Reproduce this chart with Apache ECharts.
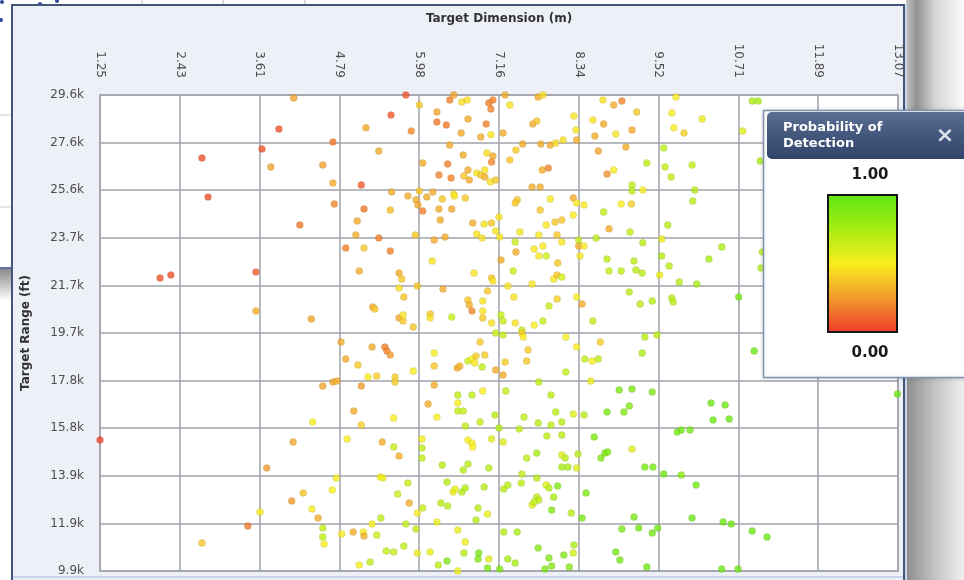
<!DOCTYPE html>
<html>
<head>
<meta charset="utf-8">
<script src="https://cdn.jsdelivr.net/npm/echarts@6/dist/echarts.min.js"></script>
<style>
  html, body { margin: 0; padding: 0; background: #ffffff; }
  #chart { width: 964px; height: 580px; }
</style>
</head>
<body>
<div id="chart"></div>
<script>
// Axis tick labels
const dimensionTicks = ['1.25', '2.43', '3.61', '4.79', '5.98', '7.16', '8.34', '9.52', '10.71', '11.89', '13.07'];
const rangeTicks = ['9.9k', '11.9k', '13.9k', '15.8k', '17.8k', '19.7k', '21.7k', '23.7k', '25.6k', '27.6k', '29.6k'];

// Axis extents: target dimension (m) and target range (ft)
const dimensionExtent = [1.25, 13.07];
const rangeExtent = [9900, 29600];

// Probability-of-detection colour ramp, from 0.00 to 1.00
const podColors = ['#ee3a2a', '#f39a2c', '#f8ee1e', '#a6ec12', '#5ee614'];
const podHigh = '1.00';
const podLow = '0.00';

// Each detection: [target dimension (m), target range (ft), probability of detection]
const detections = [
  [1.25,15320,.04],[2.14,22030,.06],[2.30,22150,.06],[2.76,26990,.06],[2.85,25380,.06],[2.76,11060,.38],
  [3.44,11760,.16],[3.56,22270,.1],[3.56,20660,.3],[3.62,12340,.5],[3.65,27370,.06],[3.72,14160,.25],
  [3.78,26620,.27],[3.90,28190,.06],[4.09,12800,.25],[4.11,15240,.27],[4.12,29480,.27],[4.21,24220,.16],
  [4.26,13130,.38],[4.38,20330,.27],[4.39,12470,.5],[4.40,16070,.5],[4.48,12090,.3],[4.55,26700,.27],
  [4.55,17560,.27],[4.55,11680,.68],[4.55,11310,.68],[4.57,11020,.5],

  [5.78,29600,.08],[5.98,29190,.4],[5.56,28770,.08],[5.19,28240,.3],[5.86,28110,.2],[6.24,28900,.27],
  [6.24,28480,.16],[6.38,28360,.16],[6.43,29390,.18],[6.49,29600,.28],[6.61,29310,.45],[6.69,29390,.45],
  [6.70,28610,.3],[6.60,28030,.3],[6.89,27860,.3],[6.97,28400,.18],[7.04,27950,.46],[7.01,29270,.18],
  [7.07,29390,.18],[7.04,29020,.18],[7.25,29600,.3],[7.32,29190,.46],[7.22,28030,.3],[4.70,27660,.16],
  [5.38,27280,.3],[6.43,27530,.3],[6.63,27120,.3],[6.98,27200,.45],[7.07,27080,.3],[7.05,26830,.2],
  [6.03,26790,.3],[6.40,26740,.18],[6.27,26290,.18],[6.45,26170,.18],[6.70,26500,.3],[6.64,26250,.38],
  [6.72,26080,.3],[6.83,26370,.47],[6.89,26290,.38],[6.95,26500,.47],[6.95,26210,.3],[7.03,26000,.47],
  [7.11,26080,.38],[7.41,27320,.4],[7.32,26910,.38],[4.70,25960,.3],[5.12,25880,.08],[4.72,25090,.2],
  [5.57,25590,.3],[5.81,25420,.3],[5.98,25630,.38],[5.93,25260,.3],[5.96,25050,.28],[6.03,24800,.18],
  [6.09,25380,.3],[6.18,25590,.3],[6.32,25300,.38],[6.49,25500,.47],[6.50,25420,.47],[6.66,25340,.38],
  [6.27,24880,.3],[6.46,24880,.28],[6.29,24430,.3],[5.16,24880,.16],[5.55,24840,.36],[5.06,24390,.3],
  [6.77,24300,.3],[6.94,24260,.47],[7.05,24300,.38],[7.16,24550,.47],[7.11,23970,.47],[6.83,23850,.47],
  [6.91,23680,.47],[7.17,23720,.48],[7.43,25260,.38],[7.40,25130,.38],[5.04,23810,.3],[5.38,23680,.18],
  [5.92,23810,.38],[6.20,23600,.3],[6.36,23720,.3],[4.89,23270,.18],[5.16,23270,.38],[5.55,23140,.18],
  [5.09,22320,.3],[5.68,22230,.3],[5.72,21990,.38],[6.17,22730,.47],[6.79,22230,.47],[7.05,22030,.38],
  [7.07,21900,.47],[7.19,22770,.3],[7.40,23520,.66],[7.41,23100,.3],[7.37,22320,.66],[5.68,21610,.47],
  [5.95,21700,.38],[6.33,21570,.3],[5.75,21240,.38],[5.29,20830,.3],[5.32,20740,.38],[5.68,20370,.3],
  [5.74,20250,.38],[5.74,20500,.47],[5.89,20000,.38],[6.14,20540,.38],[6.14,20370,.47],[6.46,20410,.66],
  [6.70,21120,.38],[6.72,20910,.3],[6.76,20660,.2],[6.92,21070,.47],[6.92,20660,.47],[6.92,20370,.38],
  [6.99,21490,.38],[7.05,20160,.47],[7.29,21700,.47],[7.38,21240,.47],[7.19,20500,.66],[7.22,20250,.66],
  [7.40,20160,.47],

  [7.74,29520,.3],[7.81,29600,.45],[7.66,28400,.3],[7.72,28520,.38],[8.27,28730,.47],[8.30,28150,.47],
  [8.70,29390,.47],[8.86,29190,.3],[8.98,29350,.2],[8.55,28570,.47],[8.71,28400,.3],[9.20,28900,.38],
  [8.89,27990,.47],[9.13,28150,.3],[8.58,27900,.3],[9.78,29520,.5],[9.72,28860,.5],[9.75,28240,.5],
  [9.90,28030,.4],[7.51,27570,.3],[7.78,27570,.3],[7.92,27530,.3],[8.00,27610,.45],[8.11,27740,.45],
  [8.31,27740,.3],[7.80,26500,.3],[7.89,26580,.2],[7.65,25790,.3],[7.77,25790,.3],[8.63,27280,.28],
  [9.04,27450,.3],[8.76,26330,.22],[8.86,26500,.5],[9.35,26790,.68],[9.60,27410,.68],[9.62,26620,.68],
  [9.71,26210,.68],[10.02,26700,.68],[9.13,25880,.68],[9.13,25630,.68],[9.29,25670,.5],[10.06,25670,.7],
  [10.03,25210,.7],[7.77,24840,.38],[7.92,25300,.48],[8.26,25340,.3],[8.31,25130,.48],[8.42,25050,.48],
  [8.26,24630,.48],[8.09,24430,.38],[7.99,24340,.38],[7.86,24220,.48],[7.47,23930,.48],[7.75,23810,.48],
  [8.02,23810,.38],[8.09,23520,.48],[8.71,24760,.68],[8.97,25090,.5],[9.12,25090,.4],[8.79,24060,.3],
  [9.10,23930,.68],[9.66,24220,.7],[9.57,23640,.54],[8.34,23600,.66],[8.60,23680,.68],[7.68,23230,.48],
  [7.81,23350,.48],[7.75,22940,.48],[7.86,22940,.62],[8.34,23350,.3],[8.42,23350,.48],[8.36,22940,.48],
  [8.03,22650,.38],[7.97,21990,.48],[8.02,22150,.38],[8.09,22070,.62],[7.65,21780,.48],[8.76,22810,.68],
  [8.79,22320,.68],[8.97,22320,.68],[9.16,22730,.7],[9.19,22360,.7],[9.28,22230,.7],[9.29,23480,.7],
  [9.57,22940,.7],[9.68,22520,.7],[9.54,22150,.54],[9.83,21860,.7],[10.09,21780,.74],[8.02,21160,.4],
  [8.31,21240,.5],[8.39,20950,.3],[7.90,20870,.66],[9.09,21450,.7],[9.25,20950,.7],[9.43,21070,.7],
  [9.72,21200,.7],[9.74,21030,.7],[8.55,20250,.68],[7.50,19870,.66],[7.68,20080,.5],[7.81,20250,.66],

  [10.91,29350,.74],[11.00,29350,.74],[10.17,28610,.54],[10.77,28110,.58],[11.03,26870,.74],
  [10.46,23310,.74],[10.27,22810,.74],[10.71,21240,.93],[11.06,23100,.7],[11.04,22440,.7],

  [4.82,19380,.3],[4.89,18670,.3],[5.07,18430,.38],[5.28,19170,.3],[5.47,19170,.18],[5.50,19010,.18],
  [5.55,18840,.25],[4.70,17720,.28],[4.76,17760,.3],[5.12,17560,.25],[5.22,17930,.5],[5.35,17970,.4],
  [5.62,17930,.4],[5.62,17720,.4],[5.89,18180,.5],[6.20,18920,.5],[6.20,18380,.38],[6.54,18300,.3],
  [6.58,18380,.32],[6.70,18590,.66],[6.76,18670,.5],[6.82,18800,.4],[6.80,18510,.5],[6.88,19380,.4],
  [6.95,18840,.4],[6.91,18340,.68],[7.11,19750,.66],[7.22,19670,.66],[7.25,18550,.4],[7.11,18220,.3],
  [7.22,18010,.3],[6.20,17600,.3],[6.55,17180,.68],[6.55,16850,.5],[6.76,17180,.68],[6.92,17350,.5],
  [6.55,16520,.68],[6.63,16520,.68],[6.11,16810,.3],[6.24,16270,.5],[5.01,16520,.3],[5.12,15940,.4],
  [5.60,16230,.5],[6.66,15900,.68],[6.88,16070,.68],[7.10,16360,.7],[7.26,17350,.68],[7.16,15820,.7],
  [4.91,15360,.5],[5.43,15240,.3],[5.60,15030,.66],[5.68,14660,.3],[6.02,15360,.5],[6.02,14990,.68],
  [6.02,14580,.68],[6.32,14290,.7],[6.70,14330,.7],[6.63,14080,.7],[6.70,15320,.5],[6.76,15200,.5],
  [6.77,15030,.5],[7.05,15360,.58],[7.01,14160,.7],[7.22,15240,.58],[4.75,13750,.5],[4.69,13250,.5],
  [5.40,13790,.5],[5.44,13750,.54],[5.81,13540,.66],[5.66,13090,.66],[6.39,13580,.7],[6.48,13170,.54],
  [6.51,13290,.54],[6.61,13170,.7],[6.66,13340,.7],[6.94,13380,.7],[7.23,13290,.7],[7.29,13460,.7],
  [5.83,12710,.3],[5.95,12300,.5],[6.03,12510,.66],[6.30,12710,.7],[6.40,12590,.7],[6.85,12510,.7],
  [6.99,12260,.54],[6.82,12010,.7],[5.41,12090,.68],[5.28,11850,.5],[5.78,11850,.68],[5.93,11640,.68],
  [6.24,11930,.54],[6.55,11600,.54],[4.83,11430,.5],[5.00,11510,.3],[5.15,11510,.5],[5.16,11350,.3],
  [5.35,11390,.66],[6.66,11100,.54],[7.23,11510,.7],[7.43,11510,.74],[5.49,10730,.68],[5.60,10690,.68],
  [5.75,10930,.68],[5.95,10650,.54],[6.14,10690,.54],[5.09,10150,.5],[5.25,10270,.68],[6.26,10150,.7],
  [6.39,10310,.9],[6.55,9900,.54],[6.64,10650,.7],[6.86,10650,.9],[6.85,10400,.9],[7.01,10400,.58],
  [6.99,10020,.9],[7.17,9980,.9],[7.29,10400,.74],[7.40,10230,.74],

  [7.50,19750,.4],[7.52,19580,.48],[7.59,19050,.4],[7.57,18590,.38],[8.15,19580,.5],[8.31,19170,.5],
  [8.15,18140,.68],[8.66,19380,.4],[8.43,18670,.68],[8.54,18590,.5],[8.63,18670,.68],[8.52,17760,.54],
  [9.32,19580,.7],[9.50,19670,.7],[9.28,18920,.74],[7.75,17720,.68],[7.93,17180,.68],[8.00,16480,.7],
  [7.53,16270,.68],[7.74,16030,.7],[7.93,15940,.7],[8.09,16070,.7],[8.26,16400,.58],[8.42,16360,.7],
  [8.76,16480,.9],[9.01,16480,.9],[9.09,16730,.9],[8.94,17390,.9],[9.13,17430,.9],[9.43,17310,.9],
  [7.46,15780,.68],[7.87,15490,.7],[8.09,15530,.7],[7.72,14780,.74],[7.57,14580,.68],[8.09,14700,.58],
  [8.14,14580,.68],[8.09,14200,.74],[8.18,14200,.74],[8.33,14740,.7],[8.31,14160,.58],[8.57,15450,.9],
  [8.67,14580,.9],[8.73,14780,.9],[8.77,14830,.9],[9.13,14950,.58],[9.32,14200,.92],[9.44,14200,.92],
  [9.60,13910,.93],[9.80,15650,.93],[9.86,15740,.93],[9.99,15740,.93],[9.86,13870,.85],[10.08,13460,.93],
  [7.50,13910,.68],[7.72,13750,.7],[7.49,13540,.68],[7.86,13460,.58],[7.90,13340,.7],[8.03,13420,.88],
  [7.97,12960,.74],[7.72,12960,.68],[7.75,12840,.68],[7.65,12630,.58],[7.68,12760,.68],[7.94,12420,.88],
  [8.23,12300,.7],[8.39,12090,.9],[8.45,13130,.9],[7.74,10850,.88],[8.27,10980,.74],[8.26,10650,.62],
  [8.12,10560,.88],[7.90,10440,.88],[7.94,10110,.88],[7.84,9980,.88],[8.20,10070,.88],[9.16,12140,.92],
  [8.98,11640,.92],[9.23,11680,.92],[9.43,11470,.93],[9.51,11680,.93],[8.89,10690,.92],[8.95,10360,.92],
  [9.35,10070,.93],[10.02,12090,.95],

  [10.94,19010,.95],[13.06,17230,.96],[10.30,16850,.95],[10.51,16770,.95],[10.33,16150,.95],
  [10.57,16190,.95],[10.48,11930,.95],[10.60,11850,.95],[10.91,11560,.95],[11.13,11310,.96],
  [10.46,9980,.95],[10.70,9980,.95]
];

const chart = echarts.init(document.getElementById('chart'), null, { renderer: 'canvas' });

const fontFamily = 'DejaVu Sans, Verdana, sans-serif';
const gridColor = '#a2a2ab';

// Gradient for the legend bar: 1.00 at the top, 0.00 at the bottom
const barStops = podColors.map((c, i) => ({ offset: 1 - i / (podColors.length - 1), color: c }))
  .sort((a, b) => a.offset - b.offset);

const txt = (x, y, text, font, fill, align, vAlign, z) => ({
  type: 'text', x, y, z: z || 0,
  style: { text, font, fill, align, verticalAlign: vAlign, textAlign: align, textVerticalAlign: vAlign }
});

const frame = [
  // surrounding desktop strips
  { type: 'rect', shape: { x: 0, y: 0, width: 12, height: 580 }, style: { fill: '#ffffff' } },
  { type: 'rect', shape: { x: 0, y: 0, width: 964, height: 5 }, style: { fill: '#ffffff' } },
  { type: 'line', shape: { x1: 0, y1: 115, x2: 11, y2: 115 }, style: { stroke: '#c9ccd2', lineWidth: 1 } },
  { type: 'line', shape: { x1: 0, y1: 207, x2: 11, y2: 207 }, style: { stroke: '#c9ccd2', lineWidth: 1 } },
  { type: 'line', shape: { x1: 0, y1: 268, x2: 11, y2: 268 }, style: { stroke: '#5d72a0', lineWidth: 2 } },
  { type: 'rect', shape: { x: 0, y: 269, width: 11, height: 32 },
    style: { fill: { type: 'linear', x: 0, y: 0, x2: 0, y2: 1, colorStops: [
      { offset: 0, color: '#8a8a8a' }, { offset: 1, color: '#ffffff' }] } } },
  { type: 'line', shape: { x1: 142, y1: 0, x2: 142, y2: 4 }, style: { stroke: '#b5b8c0', lineWidth: 1 } },
  { type: 'line', shape: { x1: 223, y1: 0, x2: 223, y2: 4 }, style: { stroke: '#b5b8c0', lineWidth: 1 } },
  { type: 'line', shape: { x1: 305, y1: 0, x2: 305, y2: 4 }, style: { stroke: '#b5b8c0', lineWidth: 1 } },
  { type: 'circle', shape: { cx: 2, cy: 2, r: 2 }, style: { fill: '#2b4b9b' } },
  { type: 'circle', shape: { cx: 1, cy: 20, r: 2 }, style: { fill: '#2b4b9b' } },
  { type: 'circle', shape: { cx: 40, cy: 4, r: 2 }, style: { fill: '#2b4b9b' } },
  { type: 'circle', shape: { cx: 57, cy: 1, r: 2 }, style: { fill: '#2b4b9b' } },
  // window shadow on the right
  { type: 'rect', shape: { x: 906, y: 0, width: 58, height: 112 },
    style: { fill: { type: 'linear', x: 0, y: 0, x2: 1, y2: 0, colorStops: [
      { offset: 0, color: '#c4c4c4' }, { offset: 0.18, color: '#929292' },
      { offset: 0.5, color: '#d6d6d6' }, { offset: 1, color: '#fbfbfb' }] } } },
  { type: 'rect', shape: { x: 906, y: 376, width: 58, height: 204 },
    style: { fill: { type: 'linear', x: 0, y: 0, x2: 1, y2: 0, colorStops: [
      { offset: 0, color: '#8c8c8c' }, { offset: 0.5, color: '#c4c4c4' }, { offset: 1, color: '#efefef' }] } } },
  // window border
  { type: 'polyline', shape: { points: [[12, 580], [12, 5], [904, 5], [904, 580]] },
    style: { stroke: '#44557a', lineWidth: 2, fill: null } },
  { type: 'line', shape: { x1: 906, y1: 5, x2: 906, y2: 580 }, style: { stroke: '#c9d5ea', lineWidth: 2 } },
  { type: 'line', shape: { x1: 13, y1: 577, x2: 903, y2: 577 }, style: { stroke: '#c7d4ea', lineWidth: 2 } }
];

// Probability-of-detection legend window
const legendPanel = [
  { type: 'rect', z: 100, shape: { x: 763.5, y: 110.5, width: 215, height: 267 },
    style: { fill: '#ffffff', stroke: '#8090b2', lineWidth: 1.5,
      shadowBlur: 4, shadowColor: 'rgba(0,0,0,0.15)' } },
  { type: 'rect', z: 101, shape: { x: 767, y: 112, width: 210, height: 47, r: [5, 0, 0, 5] },
    style: { fill: { type: 'linear', x: 0, y: 0, x2: 0, y2: 1, colorStops: [
      { offset: 0, color: '#5b6f94' }, { offset: 0.5, color: '#43567c' }, { offset: 1, color: '#33456a' }] } } },
  txt(783, 128, 'Probability of', 'bold 13px ' + fontFamily, '#ffffff', 'left', 'middle', 102),
  txt(783, 144, 'Detection', 'bold 13px ' + fontFamily, '#ffffff', 'left', 'middle', 102),
  txt(945, 136, '×', 'bold 22px ' + fontFamily, '#dde3ee', 'center', 'middle', 102),
  txt(870, 175, podHigh, 'bold 15px ' + fontFamily, '#1c1c1c', 'center', 'middle', 102),
  txt(870, 353, podLow, 'bold 15px ' + fontFamily, '#1c1c1c', 'center', 'middle', 102),
  { type: 'rect', z: 101, shape: { x: 828, y: 195, width: 69, height: 137 },
    style: { fill: { type: 'linear', x: 0, y: 0, x2: 0, y2: 1, colorStops: barStops },
      stroke: '#151515', lineWidth: 2 } }
];

chart.setOption({
  animation: false,
  backgroundColor: '#edf0f7',
  grid: {
    left: 100, top: 95, width: 798, height: 476,
    show: true, backgroundColor: '#ffffff', borderColor: gridColor, borderWidth: 1.5
  },
  xAxis: [
    { type: 'value', gridIndex: 0, min: dimensionExtent[0], max: dimensionExtent[1], show: false },
    {
      type: 'category', gridIndex: 0, position: 'top', data: dimensionTicks, boundaryGap: false,
      axisLine: { show: false }, axisTick: { show: false },
      axisLabel: { rotate: 90, margin: 17, interval: 0, fontSize: 12, color: '#4d4d4d', fontFamily },
      splitLine: { show: true, interval: 0, lineStyle: { color: gridColor, width: 1.5 } },
      name: 'Target Dimension (m)', nameLocation: 'middle', nameGap: 70,
      nameTextStyle: { fontWeight: 'bold', fontSize: 12, color: '#333', fontFamily }
    }
  ],
  yAxis: [
    { type: 'value', gridIndex: 0, min: rangeExtent[0], max: rangeExtent[1], show: false },
    {
      type: 'category', gridIndex: 0, position: 'left', data: rangeTicks, boundaryGap: false,
      axisLine: { show: false }, axisTick: { show: false },
      axisLabel: { margin: 16, interval: 0, fontSize: 12, color: '#4d4d4d', fontFamily },
      splitLine: { show: true, interval: 0, lineStyle: { color: gridColor, width: 1.5 } },
      name: 'Target Range (ft)', nameLocation: 'middle', nameGap: 68,
      nameTextStyle: { fontWeight: 'bold', fontSize: 12, color: '#333', fontFamily }
    }
  ],
  visualMap: {
    type: 'continuous', show: false, min: 0, max: 1, dimension: 2, seriesIndex: 0,
    inRange: { color: podColors }
  },
  series: [{
    type: 'scatter', xAxisIndex: 0, yAxisIndex: 0, data: detections,
    symbol: 'circle', symbolSize: 7, clip: false,
    itemStyle: { borderColor: 'rgba(70,60,0,0.22)', borderWidth: 0.6 },
    emphasis: { disabled: true }
  }],
  graphic: { elements: frame.concat(legendPanel) }
});
</script>
</body>
</html>
